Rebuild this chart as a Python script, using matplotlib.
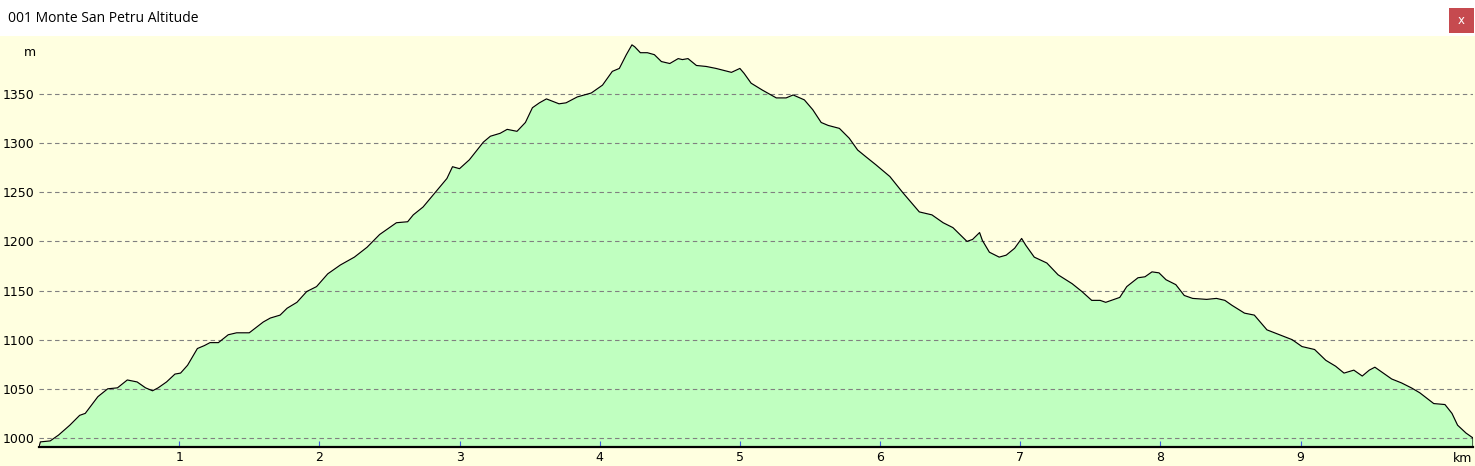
import matplotlib
matplotlib.use('Agg')
import matplotlib.pyplot as plt
from matplotlib.patches import Rectangle

# distance (km) and altitude (m)
dist_km = [0.01, 0.08, 0.14, 0.22, 0.29, 0.33, 0.42, 0.49, 0.56, 0.63, 0.70, 0.76, 0.81, 0.85, 0.91,
           0.97, 1.01, 1.06, 1.13, 1.18, 1.22, 1.28, 1.35, 1.41, 1.50, 1.60, 1.65, 1.72, 1.77, 1.84,
           1.91, 1.98, 2.06, 2.15, 2.25, 2.34, 2.43, 2.55, 2.63, 2.67, 2.74, 2.84, 2.91, 2.95, 3.00,
           3.07, 3.17, 3.22, 3.29, 3.34, 3.41, 3.47, 3.52, 3.57, 3.62, 3.71, 3.76, 3.84, 3.94, 4.02,
           4.09, 4.14, 4.19, 4.23, 4.25, 4.29, 4.34, 4.39, 4.44, 4.50, 4.56, 4.59, 4.63, 4.69, 4.76,
           4.83, 4.94, 5.00, 5.03, 5.08, 5.16, 5.26, 5.33, 5.38, 5.46, 5.52, 5.58, 5.63, 5.71, 5.78,
           5.84, 5.90, 5.97, 6.07, 6.16, 6.28, 6.37, 6.45, 6.52, 6.62, 6.66, 6.71, 6.73, 6.78, 6.85,
           6.90, 6.96, 7.01, 7.04, 7.10, 7.19, 7.27, 7.37, 7.44, 7.51, 7.57, 7.61, 7.71, 7.76, 7.84,
           7.89, 7.94, 7.99, 8.04, 8.11, 8.17, 8.23, 8.33, 8.40, 8.46, 8.51, 8.60, 8.67, 8.76, 8.85,
           8.94, 9.01, 9.10, 9.18, 9.25, 9.31, 9.38, 9.44, 9.49, 9.53, 9.58, 9.65, 9.72, 9.79, 9.85,
           9.95, 10.03, 10.08, 10.12, 10.18, 10.23]
alt_m = [996, 997, 1003, 1013, 1023, 1025, 1042, 1050, 1051, 1059, 1057, 1051, 1048, 1051, 1057,
         1065, 1066, 1074, 1091, 1094, 1097, 1097, 1105, 1107, 1107, 1118, 1122, 1125, 1132, 1138,
         1149, 1154, 1167, 1176, 1184, 1194, 1207, 1219, 1220, 1227, 1235, 1252, 1264, 1276, 1274,
         1283, 1301, 1307, 1310, 1314, 1312, 1321, 1336, 1341, 1345, 1340, 1341, 1347, 1351, 1359,
         1373, 1376, 1390, 1400, 1398, 1392, 1392, 1390, 1383, 1381, 1386, 1385, 1386, 1379, 1378,
         1376, 1372, 1376, 1371, 1361, 1354, 1346, 1346, 1349, 1344, 1334, 1321, 1318, 1315, 1305,
         1293, 1286, 1278, 1266, 1250, 1230, 1227, 1219, 1214, 1200, 1202, 1209, 1201, 1189, 1184,
         1186, 1193, 1203, 1196, 1184, 1178, 1166, 1157, 1149, 1140, 1140, 1138, 1143, 1154, 1163,
         1164, 1169, 1168, 1161, 1156, 1145, 1142, 1141, 1142, 1140, 1135, 1127, 1125, 1110, 1105,
         1100, 1093, 1090, 1079, 1073, 1066, 1069, 1063, 1069, 1072, 1067, 1060, 1056, 1051, 1046,
         1035, 1034, 1025, 1013, 1005, 1000]

y_ticks = [1000, 1050, 1100, 1150, 1200, 1250, 1300, 1350]
x_ticks = [1, 2, 3, 4, 5, 6, 7, 8, 9]

bg = '#FFFFE0'
fill = '#C0FFC0'
y_min, y_max = 990.8, 1409
x_max = 10.23

fig = plt.figure(figsize=(14.75, 4.66), dpi=100, facecolor=bg)
plt.rcParams['font.family'] = 'DejaVu Sans'

# title bar
fig.patches.append(Rectangle((0, 1 - 36 / 466), 1, 36 / 466, transform=fig.transFigure,
                             facecolor='white', edgecolor='none', zorder=0))
fig.text(8 / 1475, 1 - 18 / 466, '001 Monte San Petru Altitude', fontsize=10,
         family='Open Sans', va='center', ha='left')
fig.patches.append(Rectangle((1449 / 1475, 1 - 33 / 466), 25 / 1475, 25 / 466,
                             transform=fig.transFigure, facecolor='#C64A4F',
                             edgecolor='none', zorder=1))
fig.text(1461.5 / 1475, 1 - 20.5 / 466, 'x', color='white', fontsize=8.5,
         ha='center', va='center', zorder=2)

ax = fig.add_axes([39 / 1475, 19 / 466, 1434 / 1475, 411 / 466])
ax.set_facecolor(bg)

xs = [0] + dist_km + [x_max]
ys = [y_min] + alt_m + [y_min]
ax.fill_between(dist_km, alt_m, y_min, color=fill, linewidth=0, zorder=1)
ax.plot(xs, ys, color='black', linewidth=0.85, zorder=3)

ax.set_xlim(0, x_max)
ax.set_ylim(y_min, y_max)

for v in y_ticks:
    ax.axhline(v, color='#808080', linestyle=(0, (4, 3)), linewidth=0.8, zorder=2)

for s in ['top', 'right', 'left']:
    ax.spines[s].set_visible(False)
ax.spines['bottom'].set_linewidth(1.6)
ax.spines['bottom'].set_zorder(4)

ax.set_xticks(x_ticks)
ax.set_xticklabels([str(t) for t in x_ticks])
ax.tick_params(axis='x', direction='in', length=4, color='#4060E0', width=0.8,
               labelsize=9, pad=3)
ax.set_yticks(y_ticks)
ax.set_yticklabels([str(t) for t in y_ticks])
ax.tick_params(axis='y', length=0, labelsize=9, pad=3)

fig.text(30 / 1475, 1 - 52 / 466, 'm', fontsize=9, ha='center', va='center')
fig.text(1463 / 1475, 1 - 458 / 466, 'km', fontsize=9, ha='center', va='center')

fig.savefig('out.png', dpi=100, facecolor=bg)
